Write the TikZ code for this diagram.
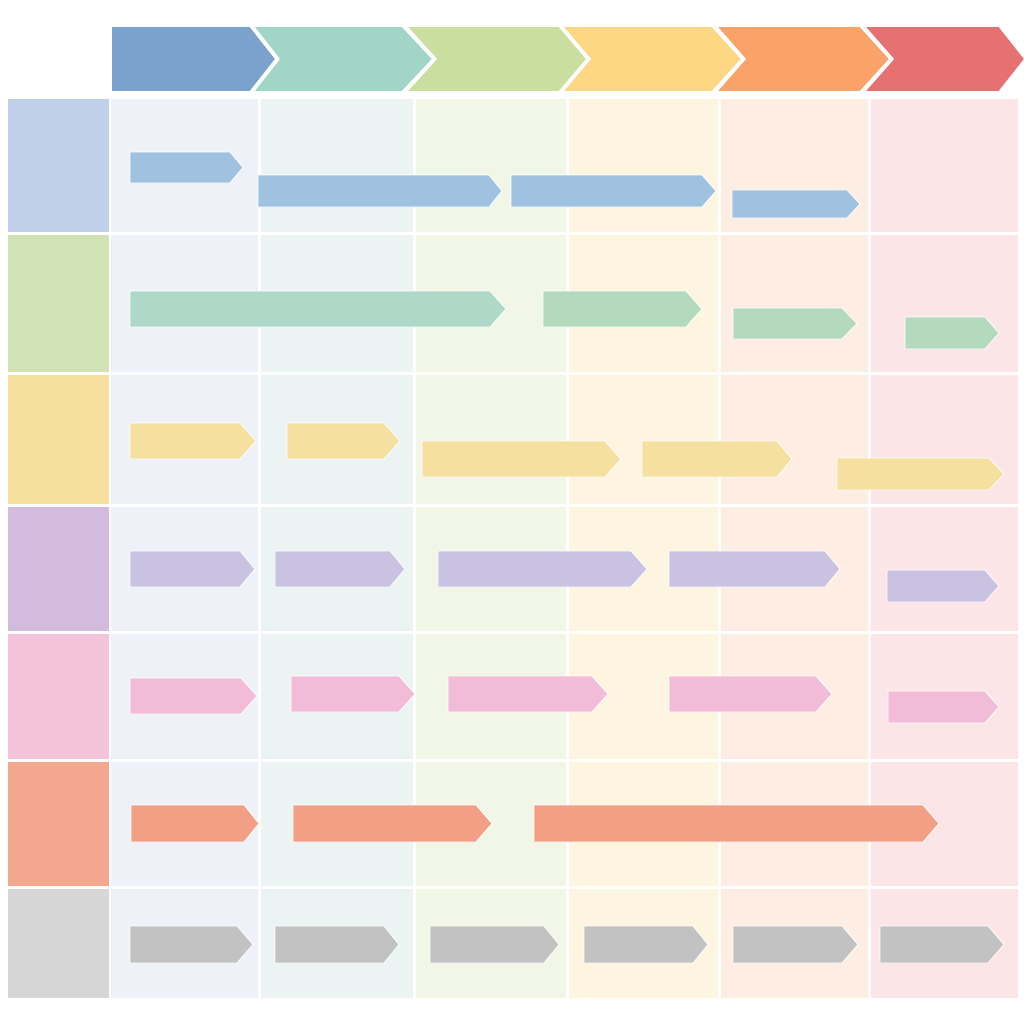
\documentclass[tikz,border=0pt]{standalone}
\usepackage{tikz}
\definecolor{h1}{HTML}{7BA1CD}
\definecolor{h2}{HTML}{A1D5C6}
\definecolor{h3}{HTML}{C9DE9F}
\definecolor{h4}{HTML}{FDD783}
\definecolor{h5}{HTML}{FBA268}
\definecolor{h6}{HTML}{E67171}
\definecolor{c1}{HTML}{EEF2F8}
\definecolor{c2}{HTML}{EBF4F3}
\definecolor{c3}{HTML}{F2F6E7}
\definecolor{c4}{HTML}{FEF5E1}
\definecolor{c5}{HTML}{FDEDE2}
\definecolor{c6}{HTML}{FCE5E7}
\definecolor{r1}{HTML}{BFD0E8}
\definecolor{r2}{HTML}{D1E3B5}
\definecolor{r3}{HTML}{F6DF9C}
\definecolor{r4}{HTML}{D2BBDD}
\definecolor{r5}{HTML}{F3C3DB}
\definecolor{r6}{HTML}{F2A78E}
\definecolor{r7}{HTML}{D6D6D6}
\definecolor{t1}{HTML}{A0C2E1}
\definecolor{t2a}{HTML}{AED8C8}
\definecolor{t2}{HTML}{B3DABD}
\definecolor{t3}{HTML}{F5E0A0}
\definecolor{t4}{HTML}{C9C3E1}
\definecolor{t5}{HTML}{F2BCD8}
\definecolor{t6}{HTML}{F29F86}
\definecolor{t7}{HTML}{C2C2C2}
\newcommand{\taskarrow}[6]{%
  \fill[#6, draw=white, line width=0.6pt] (#1,#4) -- (#2,#4) -- (#3,{(#4+#5)/2}) -- (#2,#5) -- (#1,#5) -- cycle;}
\tikzset{chev/.style={draw=white, line width=1.2pt, line join=miter}}
\begin{document}
\begin{tikzpicture}[x=0.75pt,y=-0.75pt]
\useasboundingbox (0,0) rectangle (1024,1024);
\fill[white] (0,0) rectangle (1024,1024);
% header chevrons
\fill[h1,chev] (111,26) -- (250,26) -- (276,59) -- (250,92) -- (111,92) -- cycle;
\fill[h2,chev] (253,26) -- (402,26) -- (433,59) -- (402,92) -- (253,92) -- (279,59) -- cycle;
\fill[h3,chev] (406,26) -- (559,26) -- (587,59) -- (559,92) -- (406,92) -- (436,59) -- cycle;
\fill[h4,chev] (562,26) -- (712,26) -- (742,59) -- (712,92) -- (562,92) -- (590,59) -- cycle;
\fill[h5,chev] (716,26) -- (860,26) -- (890,59) -- (860,92) -- (716,92) -- (745,59) -- cycle;
\fill[h6,chev] (864,26) -- (999,26) -- (1025,59) -- (999,92) -- (864,92) -- (893,59) -- cycle;
% grid
\foreach \ya/\yb/\rc in {99/232/r1,235/372/r2,375/504/r3,507/631/r4,634/759/r5,762/886/r6,889/998/r7}{
  \fill[\rc] (8,\ya) rectangle (109,\yb);
  \foreach \xa/\xb/\cc in {111/258/c1,261/413/c2,416/566/c3,569/718/c4,721/868/c5,871/1018/c6}{
    \fill[\cc] (\xa,\ya) rectangle (\xb,\yb);
  }
}
% row 1
\taskarrow{130}{230}{243}{152}{183}{t1}
\taskarrow{258}{489}{502}{175}{207}{t1}
\taskarrow{511}{702}{716}{175}{207}{t1}
\taskarrow{732}{847}{860}{190}{218}{t1}
% row 2
\taskarrow{130}{490}{506}{291}{327}{t2a}
\taskarrow{543}{686}{702}{291}{327}{t2}
\taskarrow{733}{842}{857}{308}{339}{t2}
\taskarrow{905}{985}{999}{317}{349}{t2}
% row 3
\taskarrow{130}{240}{256}{423}{459}{t3}
\taskarrow{287}{384}{400}{423}{459}{t3}
\taskarrow{422}{605}{621}{441}{477}{t3}
\taskarrow{642}{777}{792}{441}{477}{t3}
\taskarrow{837}{989}{1004}{458}{490}{t3}
% row 4
\taskarrow{130}{240}{255}{551}{587}{t4}
\taskarrow{275}{390}{405}{551}{587}{t4}
\taskarrow{438}{631}{647}{551}{587}{t4}
\taskarrow{669}{825}{840}{551}{587}{t4}
\taskarrow{887}{985}{999}{570}{602}{t4}
% row 5
\taskarrow{130}{241}{257}{678}{714}{t5}
\taskarrow{291}{399}{415}{676}{712}{t5}
\taskarrow{448}{592}{608}{676}{712}{t5}
\taskarrow{669}{816}{832}{676}{712}{t5}
\taskarrow{888}{985}{999}{691}{723}{t5}
% row 6
\taskarrow{131}{244}{259}{805}{842}{t6}
\taskarrow{293}{476}{492}{805}{842}{t6}
\taskarrow{534}{923}{939}{805}{842}{t6}
% row 7
\taskarrow{130}{237}{253}{926}{963}{t7}
\taskarrow{275}{384}{399}{926}{963}{t7}
\taskarrow{430}{544}{559}{926}{963}{t7}
\taskarrow{584}{693}{708}{926}{963}{t7}
\taskarrow{733}{842}{858}{926}{963}{t7}
\taskarrow{880}{988}{1004}{926}{963}{t7}
\end{tikzpicture}
\end{document}
